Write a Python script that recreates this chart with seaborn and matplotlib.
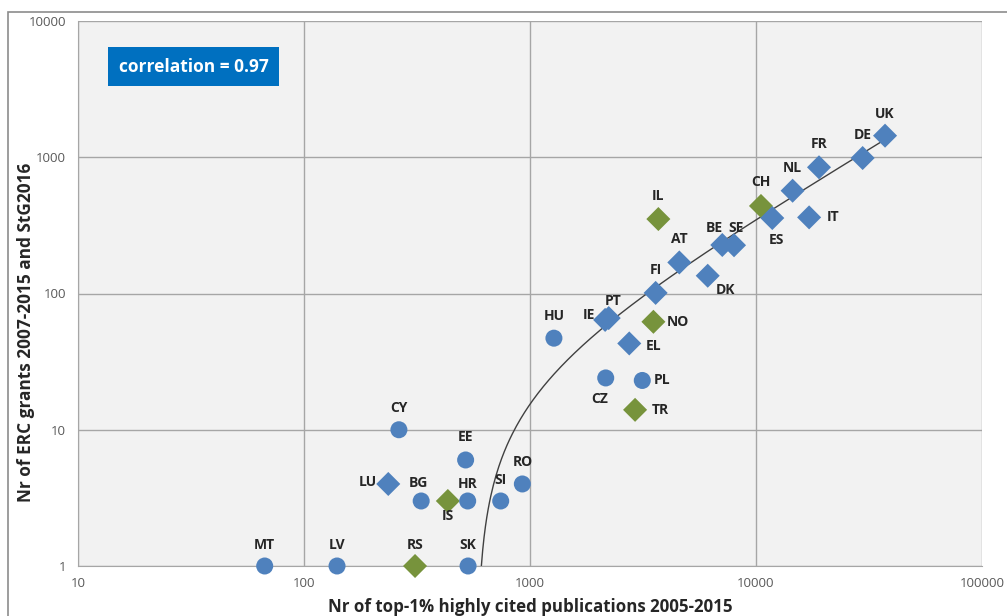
import numpy as np
import pandas as pd
import seaborn as sns
import matplotlib.pyplot as plt
from matplotlib.patches import Rectangle

# country codes, x = top-1% cited publications, y = ERC grants
countries = ['MT', 'LV', 'RS', 'SK', 'LU', 'BG', 'IS', 'HR', 'EE', 'SI', 'RO', 'CY',
             'HU', 'CZ', 'PL', 'TR', 'EL', 'NO', 'IE', 'PT', 'FI', 'AT', 'DK', 'BE',
             'SE', 'IL', 'CH', 'ES', 'IT', 'NL', 'FR', 'DE', 'UK']
publications = [67, 140, 310, 532, 236, 330, 433, 530, 519, 742, 925, 263,
                1276, 2163, 3139, 2917, 2749, 3516, 2150, 2230, 3597, 4578, 6115, 7093,
                7994, 3698, 10520, 11805, 17180, 14520, 19000, 29640, 37240]
grants = [1, 1, 1, 1, 4, 3, 3, 3, 6, 3, 4, 10,
          47, 24, 23, 14, 43, 62, 64, 66, 101, 169, 135, 227,
          226, 352, 439, 358, 362, 568, 844, 987, 1440]
groups = ['circle', 'circle', 'assoc', 'circle', 'diamond', 'circle', 'assoc', 'circle',
          'circle', 'circle', 'circle', 'circle', 'circle', 'circle', 'circle', 'assoc',
          'diamond', 'assoc', 'diamond', 'diamond', 'diamond', 'diamond', 'diamond',
          'diamond', 'diamond', 'assoc', 'assoc', 'diamond', 'diamond', 'diamond',
          'diamond', 'diamond', 'diamond']
correlation = 0.97

# label offsets in pixels (dx, dy) relative to the marker
offsets = {'MT': (0, 21), 'LV': (0, 21), 'RS': (0, 21), 'SK': (0, 21), 'LU': (-20, 2),
           'BG': (-3, 18), 'IS': (0, -15), 'HR': (0, 17), 'EE': (0, 23), 'SI': (0, 21),
           'RO': (0, 22), 'CY': (0, 22), 'HU': (0, 22), 'CZ': (-6, -21), 'PL': (20, 0),
           'TR': (25, 0), 'EL': (24, -3), 'NO': (24, 0), 'IE': (-16, 5), 'PT': (4, 17),
           'FI': (0, 23), 'AT': (0, 23), 'DK': (18, -14), 'BE': (-8, 17), 'SE': (2, 17),
           'IL': (0, 23), 'CH': (0, 24), 'ES': (4, -22), 'IT': (24, 0), 'NL': (0, 23),
           'FR': (0, 23), 'DE': (0, 23), 'UK': (0, 22)}

df = pd.DataFrame({'country': countries, 'pubs': publications,
                   'grants': grants, 'group': groups})

sns.set_style('white')
plt.rcParams['font.family'] = ['Open Sans', 'DejaVu Sans']

fig = plt.figure(figsize=(10.07, 6.16), dpi=100)
ax = fig.add_axes([78 / 1007, 1 - 566 / 616, 904 / 1007, 545 / 616])
ax.set_facecolor('#f2f2f2')

# outer chart border
fig.patches.append(Rectangle((8 / 1007, -0.1), 1.2, 1 - 12 / 616 + 0.1,
                             transform=fig.transFigure, fill=False,
                             edgecolor='#8c8c8c', linewidth=1.2))

# linear trend (fitted in linear space, shown on log-log)
slope, intercept = np.polyfit(df['pubs'], df['grants'], 1)
x0 = (1 - intercept) / slope
xs = np.geomspace(x0, max(publications), 300)
ax.plot(xs, slope * xs + intercept, color='#404040', linewidth=1, zorder=2)

palette = {'circle': '#4f81bd', 'diamond': '#4f81bd', 'assoc': '#77933c'}
markers = {'circle': 'o', 'diamond': 'D', 'assoc': 'D'}
sns.scatterplot(data=df, x='pubs', y='grants', hue='group', style='group',
                palette=palette, markers=markers, s=150, edgecolor='none',
                legend=False, ax=ax, zorder=3, clip_on=False)

ax.set_xscale('log')
ax.set_yscale('log')
ax.set_xlim(10, 100000)
ax.set_ylim(1, 10000)
ax.set_xticks([10, 100, 1000, 10000, 100000])
ax.set_xticklabels(['10', '100', '1000', '10000', '100000'])
ax.set_yticks([1, 10, 100, 1000, 10000])
ax.set_yticklabels(['1', '10', '100', '1000', '10000'])
ax.minorticks_off()
ax.grid(True, color='#a6a6a6', linewidth=1)
ax.set_axisbelow(True)
for s in ['top', 'right']:
    ax.spines[s].set_visible(False)
for s in ['left', 'bottom']:
    ax.spines[s].set_color('#a6a6a6')
ax.tick_params(axis='both', colors='#a6a6a6', labelcolor='#595959', labelsize=9.5,
               length=5, width=1, direction='out')
ax.tick_params(axis='x', pad=3)

for c, x, y in zip(countries, publications, grants):
    dx, dy = offsets[c]
    ax.annotate(c, (x, y), xytext=(dx * 0.72, dy * 0.72), textcoords='offset points',
                ha='center', va='center', fontsize=10, fontweight='bold',
                color='#262626', zorder=4)

ax.set_xlabel('Nr of top-1% highly cited publications 2005-2015', fontsize=12.2,
              fontweight='bold', color='#262626', labelpad=6)
ax.set_ylabel('Nr of ERC grants 2007-2015 and StG2016', fontsize=12.4,
              fontweight='bold', color='#262626', va='center')
ax.yaxis.set_label_coords(-0.058, 0.429)

ax.text(0.045, 0.916, 'correlation = {:.2f}'.format(correlation), transform=ax.transAxes,
        fontsize=12.5, fontweight='bold', color='white', va='center', ha='left',
        bbox=dict(boxstyle='square,pad=0.6', facecolor='#0070c0', edgecolor='none'))

fig.savefig('out.png', dpi=100)
